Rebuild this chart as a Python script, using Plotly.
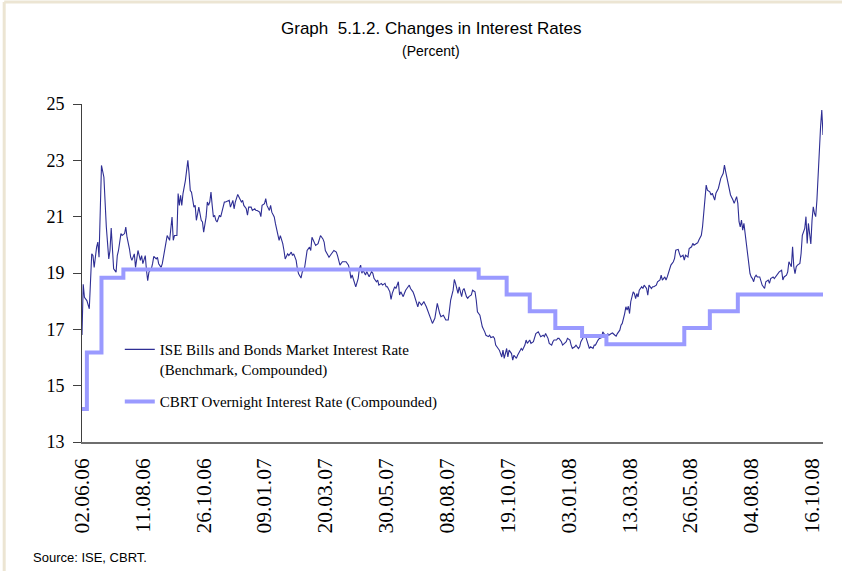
import plotly.graph_objects as go

# Tick labels: one every 50 trading days
tick_days = [0, 50, 100, 150, 200, 250, 300, 350, 400, 450, 500, 550, 600]
tick_dates = ["02.06.06", "11.08.06", "26.10.06", "09.01.07", "20.03.07", "30.05.07",
              "08.08.07", "19.10.07", "03.01.08", "13.03.08", "26.05.08", "04.08.08", "16.10.08"]

# ISE benchmark rate (compounded, %), by trading day since 02.06.06
ise_points = [
    (0, 16.8), (1, 18.6), (2, 18.14), (4, 18.02), (6, 17.73), (8, 19.68), (9, 19.62), (10, 19.2),
    (12, 19.92), (13, 20.1), (14, 19.56), (15, 21.34), (16, 22.82), (18, 22.4), (19, 21.34), (20, 20.63),
    (22, 19.5), (23, 19.8), (24, 20.6), (25, 19.56), (26, 19.15), (28, 19.03), (29, 19.62), (30, 19.8),
    (32, 20.4), (33, 20.33), (35, 20.4), (36, 20.63), (37, 20.27), (39, 19.86), (40, 19.56), (41, 19.45),
    (43, 19.68), (44, 19.2), (45, 19.56), (46, 19.8), (48, 19.45), (49, 19.62), (50, 19.33), (52, 19.62),
    (53, 19.09), (54, 18.73), (55, 19.03), (57, 19.15), (58, 19.33), (59, 19.59), (61, 19.5), (62, 19.56),
    (63, 19.33), (65, 19.2), (66, 19.33), (68, 19.8), (69, 20.16), (70, 20.33), (72, 20.16), (73, 20.7),
    (74, 20.99), (75, 20.16), (76, 20.33), (78, 20.33), (79, 21.82), (80, 21.4), (81, 21.76), (82, 21.4),
    (83, 21.82), (85, 22.29), (86, 22.67), (87, 23.0), (88, 22.53), (89, 21.93), (90, 21.87), (91, 21.52),
    (92, 21.34), (93, 21.4), (94, 20.87), (95, 21.1), (96, 21.34), (98, 20.87), (99, 20.81), (100, 20.45),
    (102, 20.99), (103, 21.52), (104, 21.4), (105, 21.52), (106, 21.87), (107, 21.4), (108, 20.99),
    (109, 21.05), (110, 20.87), (111, 20.81), (113, 21.05), (114, 20.99), (115, 21.16), (117, 21.52),
    (118, 21.52), (120, 21.58), (121, 21.58), (122, 21.34), (124, 21.58), (125, 21.28), (126, 21.52),
    (128, 21.79), (129, 21.7), (131, 21.52), (132, 21.58), (133, 21.4), (135, 21.28), (136, 21.05),
    (137, 21.34), (139, 21.34), (140, 21.22), (142, 21.28), (143, 21.22), (144, 21.22), (146, 21.16),
    (147, 21.0), (148, 21.4), (150, 21.46), (151, 21.64), (152, 21.4), (154, 21.22), (155, 21.4),
    (156, 21.16), (158, 20.99), (159, 20.75), (161, 20.27), (162, 20.16), (163, 20.33), (165, 20.04),
    (166, 19.8), (167, 19.5), (169, 19.68), (170, 19.62), (172, 19.74), (173, 19.62), (174, 19.68),
    (176, 19.45), (177, 19.15), (178, 18.97), (180, 18.82), (181, 19.03), (183, 19.2), (184, 19.45),
    (185, 19.8), (187, 19.92), (188, 19.8), (189, 20.27), (191, 20.1), (192, 19.98), (194, 20.04),
    (195, 20.16), (196, 20.33), (198, 20.21), (199, 20.1), (200, 19.8), (202, 19.62), (203, 19.56),
    (204, 19.62), (206, 19.74), (207, 19.8), (209, 19.74), (210, 19.62),
    (212, 19.28), (214, 19.4), (217, 19.4), (219, 19.28), (220, 19.1), (221, 18.81), (222, 18.93),
    (224, 18.63), (225, 18.51), (227, 18.81), (228, 19.16), (229, 19.28), (230, 18.99), (231, 19.1),
    (233, 18.93), (234, 19.05), (236, 18.87), (238, 19.05), (239, 18.99), (240, 18.81), (242, 18.69),
    (243, 18.75), (244, 18.57), (246, 18.63), (247, 18.57), (249, 18.63), (250, 18.51), (251, 18.51),
    (253, 18.33), (254, 18.06), (255, 18.28), (257, 18.51), (258, 18.45), (260, 18.69), (261, 18.22),
    (262, 18.33), (264, 18.16), (265, 18.28), (266, 18.39), (268, 18.51), (269, 18.57), (270, 18.45),
    (272, 18.33), (273, 18.22), (275, 17.92), (276, 17.8), (277, 17.98), (279, 17.86), (280, 17.92),
    (281, 17.98), (283, 17.8), (284, 17.68), (286, 17.5), (287, 17.39), (288, 17.21), (290, 17.39),
    (291, 17.68), (292, 17.92), (294, 17.56), (295, 17.45), (297, 17.5), (298, 17.39), (299, 17.33),
    (301, 17.33), (302, 17.68), (303, 18.04), (305, 18.39), (306, 18.77), (307, 18.63), (309, 18.28),
    (310, 18.51), (312, 18.16), (313, 18.39), (314, 18.45), (316, 18.16), (317, 18.1), (318, 18.16),
    (320, 18.22), (321, 18.39), (323, 18.33), (324, 18.04), (325, 17.62), (327, 17.5), (328, 17.27),
    (329, 17.09), (331, 16.91), (332, 16.79), (334, 16.74), (335, 16.79), (336, 16.71), (338, 16.74),
    (339, 16.68), (340, 16.44), (342, 16.32), (343, 16.26), (345, 16.02), (346, 16.26), (347, 15.97),
    (349, 16.32), (350, 16.02), (351, 16.26), (353, 16.14), (354, 15.91), (355, 16.08), (357, 15.97),
    (358, 16.08), (360, 16.26), (361, 16.32), (362, 16.26), (364, 16.44), (365, 16.62), (366, 16.5),
    (368, 16.62), (369, 16.5), (371, 16.56), (372, 16.74), (373, 16.85), (375, 16.91), (376, 16.79),
    (377, 16.74), (379, 16.79), (380, 16.74), (381, 16.85), (383, 16.68), (384, 16.5), (386, 16.44),
    (387, 16.56), (388, 16.62), (390, 16.62), (391, 16.68), (392, 16.68), (394, 16.56), (395, 16.44),
    (397, 16.5), (398, 16.56), (399, 16.68), (401, 16.62), (402, 16.44), (403, 16.32), (405, 16.38),
    (406, 16.44), (408, 16.32), (409, 16.38), (410, 16.56), (412, 16.74), (413, 16.79), (414, 16.74),
    (416, 16.5), (417, 16.32),
    (418, 16.38), (420, 16.32), (421, 16.44), (422, 16.44), (424, 16.61), (425, 16.67), (427, 16.71),
    (428, 16.91), (429, 16.85), (430, 16.79), (431, 16.71), (432, 16.85), (433, 16.79), (435, 16.85),
    (436, 16.87), (438, 16.79), (439, 16.76), (440, 16.85), (442, 16.97), (443, 17.15), (444, 17.21),
    (446, 17.56), (447, 17.8), (448, 17.68), (449, 17.82), (450, 17.56), (451, 17.98), (453, 18.33),
    (454, 18.27), (455, 18.09), (456, 18.27), (457, 18.15), (458, 18.39), (460, 18.51), (461, 18.45),
    (462, 18.57), (464, 18.45), (465, 18.21), (466, 18.57), (468, 18.45), (469, 18.51), (470, 18.51),
    (472, 18.57), (473, 18.69), (475, 18.75), (476, 18.92), (477, 18.75), (479, 18.86), (480, 18.75),
    (481, 18.86), (483, 19.1), (484, 19.28), (486, 19.4), (487, 19.52), (488, 19.81), (490, 19.84),
    (491, 19.69), (492, 19.57), (494, 19.63), (495, 19.46), (496, 19.63), (498, 19.57), (499, 19.87),
    (501, 19.93), (502, 20.05), (503, 19.99), (505, 20.05), (506, 20.07), (507, 20.17), (509, 20.34),
    (510, 20.64), (511, 21.23), (512, 21.83), (513, 22.12), (514, 21.94), (516, 21.88), (517, 21.77),
    (518, 21.83), (520, 21.59), (521, 21.83), (523, 22.0), (524, 22.24), (525, 22.36), (527, 22.54),
    (528, 22.83), (529, 22.6), (531, 22.12), (532, 21.94), (533, 21.77), (535, 21.59), (536, 21.47),
    (538, 21.71), (539, 21.47), (540, 20.82), (541, 20.64), (542, 20.88), (543, 20.52), (544, 20.76),
    (545, 20.4), (546, 20.17), (547, 19.81), (548, 19.46), (549, 18.98), (550, 18.86), (551, 18.8),
    (552, 18.69), (553, 18.86), (554, 18.92), (555, 18.86), (557, 18.86), (558, 18.69), (559, 18.57),
    (561, 18.45), (562, 18.69), (564, 18.75), (565, 18.63), (566, 18.8), (568, 18.86), (569, 18.8),
    (570, 18.86), (572, 18.98), (573, 19.04), (575, 19.1), (576, 18.75), (577, 18.86), (579, 18.92),
    (580, 19.04), (581, 19.4), (583, 19.22), (584, 19.93), (585, 19.22), (586, 18.98), (587, 19.22),
    (588, 19.28), (590, 19.34), (591, 19.69), (592, 20.34), (594, 20.58), (595, 21.0), (596, 20.05),
    (597, 20.76), (598, 20.4), (599, 20.03), (600, 20.88), (601, 21.35), (602, 21.12), (603, 21.0),
    (604, 21.59), (605, 22.54), (606, 23.37), (607, 24.19), (608, 24.79), (609, 23.9),
]
ise_day = [d for d, _ in ise_points]
ise_rate = [r for _, r in ise_points]

# CBRT overnight borrowing rate (compounded, %): day of each change and the new level
cbrt_day = [0, 4, 16, 34, 326, 349, 368, 389, 411, 431, 495, 516, 539, 609]
cbrt_rate = [14.17, 16.18, 18.83, 19.12, 18.83, 18.24, 17.64, 17.05, 16.76, 16.47, 17.05, 17.64, 18.24, 18.24]

SERIF = "Liberation Serif, Times New Roman, serif"
NARROW = "Liberation Sans Narrow, Arial Narrow, Liberation Sans, sans-serif"

fig = go.Figure()
fig.add_trace(go.Scatter(
    x=ise_day, y=ise_rate, mode="lines",
    name="ISE Bills and Bonds Market Interest Rate<br>(Benchmark, Compounded)",
    line=dict(color="#2e2e94", width=1.1),
    legendgroup="ise",
))
fig.add_trace(go.Scatter(
    x=cbrt_day, y=cbrt_rate, mode="lines",
    name="CBRT Overnight Interest Rate (Compounded)",
    line=dict(color="#9a9aff", width=4, shape="hv"),
    legendgroup="cbrt",
))

fig.update_layout(
    width=842, height=571,
    margin=dict(l=82, r=19, t=104, b=129),
    paper_bgcolor="white", plot_bgcolor="white",
    showlegend=True,
    legend=dict(
        x=0.051, y=0.322, xanchor="left", yanchor="top",
        font=dict(family=SERIF, size=15, color="black"),
        bgcolor="rgba(0,0,0,0)", valign="top", tracegroupgap=10,
    ),
    xaxis=dict(
        range=[0, 609], tickmode="array", tickvals=tick_days, ticktext=tick_dates,
        tickangle=-90, ticks="", showgrid=False, zeroline=False,
        showline=True, linecolor="#6e6e6e", linewidth=1.5,
        tickfont=dict(family=SERIF, size=21.5, color="black"),
        ticklabelstandoff=6,
    ),
    yaxis=dict(
        range=[13, 25], tickmode="array", tickvals=[13, 15, 17, 19, 21, 23, 25],
        ticks="outside", ticklen=8, tickcolor="#404040", tickwidth=1,
        showgrid=False, zeroline=False,
        showline=True, linecolor="#404040", linewidth=1,
        tickfont=dict(family=SERIF, size=18, color="black"),
        ticklabelstandoff=5,
    ),
    annotations=[
        dict(text="Graph\u00a0 5.1.2. Changes in Interest Rates", xref="paper", yref="paper",
             x=0.471, y=1.222, xanchor="center", yanchor="middle", showarrow=False,
             font=dict(family=NARROW, size=17, color="black")),
        dict(text="(Percent)", xref="paper", yref="paper",
             x=0.471, y=1.157, xanchor="center", yanchor="middle", showarrow=False,
             font=dict(family=NARROW, size=14, color="black")),
        dict(text="Source: ISE, CBRT.", xref="paper", yref="paper",
             x=-0.069, y=-0.342, xanchor="left", yanchor="middle", showarrow=False,
             font=dict(family=NARROW, size=13, color="black")),
    ],
    shapes=[
        dict(type="line", xref="paper", yref="paper", x0=-0.105, x1=1.03, y0=1.302, y1=1.302,
             line=dict(color="#ece5d3", width=3)),
        dict(type="line", xref="paper", yref="paper", x0=-0.105, x1=-0.105, y0=-0.4, y1=1.302,
             line=dict(color="#ece5d3", width=3)),
    ],
)

fig.write_html("out.html")
